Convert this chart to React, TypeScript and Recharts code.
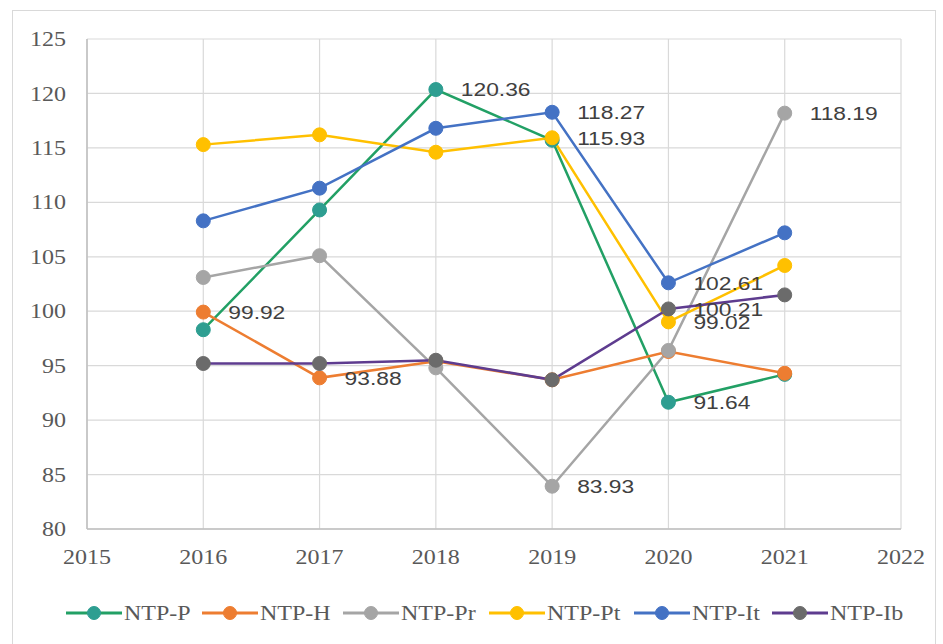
import React from "react";
import { LineChart, Line, XAxis, YAxis, CartesianGrid } from "recharts";

const years = [2016, 2017, 2018, 2019, 2020, 2021];
const xTicks = [2015, 2016, 2017, 2018, 2019, 2020, 2021, 2022];
const yTicks = [80, 85, 90, 95, 100, 105, 110, 115, 120, 125];

const ntpP = [98.3, 109.3, 120.36, 115.7, 91.64, 94.2];
const ntpH = [99.92, 93.88, 95.4, 93.7, 96.3, 94.3];
const ntpPr = [103.1, 105.1, 94.8, 83.93, 96.4, 118.19];
const ntpPt = [115.3, 116.2, 114.6, 115.93, 99.02, 104.2];
const ntpIt = [108.3, 111.3, 116.8, 118.27, 102.61, 107.2];
const ntpIb = [95.2, 95.2, 95.5, 93.7, 100.21, 101.5];

// indices of points that carry a data label
const labelsP = [2, 4];
const labelsH = [0, 1];
const labelsPr = [3, 5];
const labelsPt = [3, 4];
const labelsIt = [3, 4];
const labelsIb = [4];

const seriesNames = ["NTP-P", "NTP-H", "NTP-Pr", "NTP-Pt", "NTP-It", "NTP-Ib"];

const series = [
  { key: "P", name: seriesNames[0], values: ntpP, labels: labelsP, line: "#22A065", dot: "#2E9E91" },
  { key: "H", name: seriesNames[1], values: ntpH, labels: labelsH, line: "#ED7D31", dot: "#ED7D31" },
  { key: "Pr", name: seriesNames[2], values: ntpPr, labels: labelsPr, line: "#A5A5A5", dot: "#A5A5A5" },
  { key: "Pt", name: seriesNames[3], values: ntpPt, labels: labelsPt, line: "#FFC000", dot: "#FFC000" },
  { key: "It", name: seriesNames[4], values: ntpIt, labels: labelsIt, line: "#4472C4", dot: "#4472C4" },
  { key: "Ib", name: seriesNames[5], values: ntpIb, labels: labelsIb, line: "#5E3C8F", dot: "#6B6B6B" },
];

const data = years.map((y, i) => {
  const row: any = { year: y };
  series.forEach((s) => {
    row[s.key] = s.values[i];
  });
  return row;
});

const SERIF = "'Liberation Serif', 'Times New Roman', serif";
const SANS = "'Liberation Sans', Arial, sans-serif";

const XTick = (props: any) => {
  const { x, y, payload } = props;
  return (
    <text
      transform={`translate(${x},${y}) scale(1.2,1)`}
      textAnchor="middle"
      dy="0.71em"
      fontFamily={SERIF}
      fontSize={20}
      fill="#595959"
    >
      {payload.value}
    </text>
  );
};

const YTick = (props: any) => {
  const { x, y, payload } = props;
  return (
    <text
      transform={`translate(${x},${y}) scale(1.2,1)`}
      textAnchor="end"
      dy="0.355em"
      fontFamily={SERIF}
      fontSize={20}
      fill="#595959"
    >
      {payload.value}
    </text>
  );
};

const makeLabel = (idxs: number[], values: number[]) => (props: any) => {
  const { x, y, index } = props;
  if (!idxs.includes(index)) return null;
  return (
    <text
      key={`l-${index}`}
      transform={`translate(${x + 25},${y}) scale(1.2,1)`}
      dy="0.355em"
      textAnchor="start"
      fontFamily={SANS}
      fontSize={19}
      fill="#404040"
    >
      {values[index].toFixed(2)}
    </text>
  );
};

const legendIconX = [66, 202, 343, 489, 634, 772];

export default function App() {
  return (
    <div style={{ position: "absolute", left: 0, top: 0, width: 943, height: 644, background: "#fff" }}>
      <div
        style={{
          position: "absolute",
          left: 12,
          top: 10,
          width: 924,
          height: 640,
          border: "1px solid #D9D9D9",
          boxSizing: "border-box",
        }}
      />
      <div style={{ position: "absolute", left: 0, top: 0 }}>
        <LineChart
          width={943}
          height={644}
          data={data}
          margin={{ top: 39, right: 42, bottom: 0, left: 0 }}
        >
          <CartesianGrid stroke="#D9D9D9" strokeWidth={1.2} />
          <XAxis
            dataKey="year"
            type="number"
            domain={[2015, 2022]}
            ticks={xTicks}
            height={115}
            tickSize={0}
            tickMargin={21}
            tickLine={false}
            axisLine={{ stroke: "#BFBFBF", strokeWidth: 1.5 }}
            tick={<XTick />}
            interval={0}
            allowDataOverflow
          />
          <YAxis
            type="number"
            domain={[80, 125]}
            ticks={yTicks}
            width={87}
            tickSize={0}
            tickMargin={21}
            tickLine={false}
            axisLine={{ stroke: "#BFBFBF", strokeWidth: 1.5 }}
            tick={<YTick />}
            interval={0}
            allowDataOverflow
          />
          {series.map((s) => (
            <Line
              key={s.key}
              dataKey={s.key}
              name={s.name}
              stroke={s.line}
              strokeWidth={2.5}
              dot={{ r: 7, fill: s.dot, stroke: s.dot, strokeWidth: 1 }}
              activeDot={false}
              isAnimationActive={false}
              label={makeLabel(s.labels, s.values)}
            />
          ))}
        </LineChart>
      </div>
      <svg
        width={943}
        height={40}
        style={{ position: "absolute", left: 0, top: 594 }}
      >
        {series.map((s, i) => {
          const x0 = legendIconX[i];
          return (
            <g key={s.key}>
              <line x1={x0} x2={x0 + 56} y1={19} y2={19} stroke={s.line} strokeWidth={3} />
              <circle cx={x0 + 28} cy={19} r={6.5} fill={s.dot} stroke={s.dot} />
              <text
                transform={`translate(${x0 + 58},19) scale(1.2,1)`}
                dy="0.355em"
                fontFamily={SERIF}
                fontSize={20}
                fill="#595959"
              >
                {s.name}
              </text>
            </g>
          );
        })}
      </svg>
    </div>
  );
}
